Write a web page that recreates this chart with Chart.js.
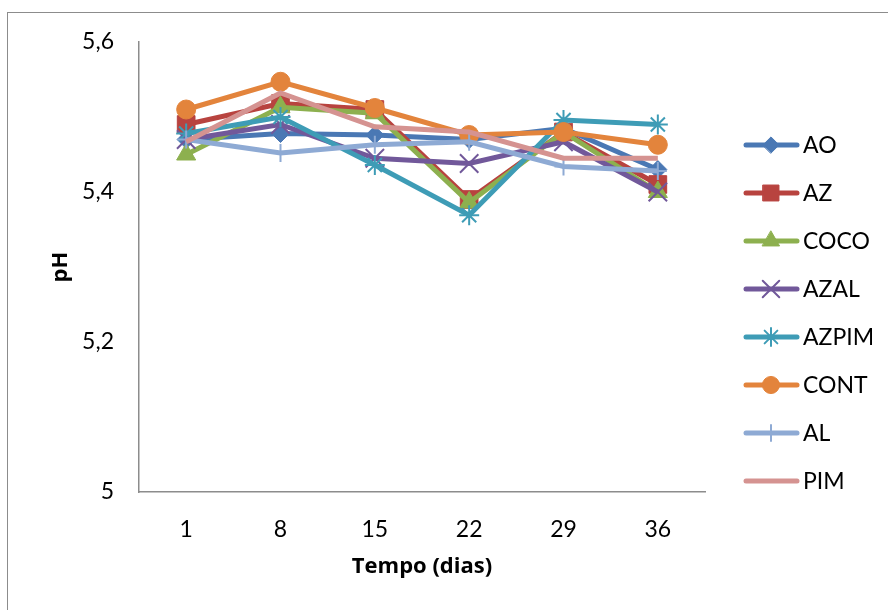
<!DOCTYPE html>
<html>
<head>
<meta charset="utf-8">
<script src="https://cdn.jsdelivr.net/npm/chart.js@4/dist/chart.umd.min.js"></script>
<style>
  html, body { margin: 0; padding: 0; background: #fff; overflow: hidden; }
  #wrap { position: relative; width: 888px; height: 610px; overflow: hidden; }
  #frame { position: absolute; left: 7px; top: 12px; width: 1000px; height: 1000px; border: 1px solid #8c8c8c; box-sizing: border-box; pointer-events: none; }
</style>
</head>
<body>
<div id="wrap">
  <canvas id="ph-chart" width="888" height="610"></canvas>
  <div id="frame"></div>
</div>
<script>
  const days = ["1", "8", "15", "22", "29", "36"];
  const yTicks = [5, 5.2, 5.4, 5.6];

  const AO    = [5.470, 5.478, 5.476, 5.470, 5.485, 5.430];
  const AZ    = [5.490, 5.518, 5.510, 5.390, 5.480, 5.410];
  const COCO  = [5.450, 5.513, 5.505, 5.386, 5.480, 5.400];
  const AZAL  = [5.470, 5.490, 5.445, 5.438, 5.467, 5.400];
  const AZPIM = [5.478, 5.500, 5.436, 5.369, 5.496, 5.490];
  const CONT  = [5.510, 5.547, 5.512, 5.476, 5.480, 5.463];
  const AL    = [5.470, 5.452, 5.463, 5.467, 5.434, 5.428];
  const PIM   = [5.467, 5.532, 5.487, 5.480, 5.445, 5.445];

  const FONT = "Lato, 'Open Sans', sans-serif";
  const TITLE_FONT = "'Open Sans', Lato, sans-serif";

  const series = [
    { label: "AO",    data: AO,    color: "#4A78B4", style: "rectRot",  r: 9 },
    { label: "AZ",    data: AZ,    color: "#B8433F", style: "rect",     r: 12.5 },
    { label: "COCO",  data: COCO,  color: "#8DB04F", style: "triangle", r: 11 },
    { label: "AZAL",  data: AZAL,  color: "#71589A", style: "crossRot", r: 13, bw: 2 },
    { label: "AZPIM", data: AZPIM, color: "#3E9CB6", style: "star",     r: 10, bw: 2 },
    { label: "CONT",  data: CONT,  color: "#E3843C", style: "circle",   r: 9.5 },
    { label: "AL",    data: AL,    color: "#8EAAD4", style: "cross",    r: 9, bw: 2 },
    { label: "PIM",   data: PIM,   color: "#D59391", style: "circle",   r: 0 },
  ];

  const fmtTick = (v) => Number(v.toFixed(1)).toString().replace(".", ",");

  // legend on the right: line with marker, then the name
  const sideLegend = {
    id: "sideLegend",
    afterDraw(chart) {
      const ctx = chart.ctx;
      ctx.save();
      series.forEach((s, i) => {
        const y = 145 + i * 48;
        ctx.strokeStyle = s.color;
        ctx.lineWidth = 5;
        ctx.lineCap = "round";
        ctx.beginPath();
        ctx.moveTo(746, y);
        ctx.lineTo(797, y);
        ctx.stroke();
        if (s.r > 0) {
          ctx.fillStyle = s.color;
          ctx.strokeStyle = s.color;
          ctx.lineWidth = s.bw || 1;
          Chart.helpers.drawPoint(ctx, { pointStyle: s.style, radius: s.r * 0.9, borderWidth: s.bw || 1, rotation: 0 }, 771, y);
        }
        ctx.fillStyle = "#000";
        ctx.font = "23px " + FONT;
        ctx.textBaseline = "middle";
        ctx.textAlign = "left";
        ctx.fillText(s.label, 803, y + 1);
      });
      ctx.restore();
    }
  };

  new Chart(document.getElementById("ph-chart"), {
    type: "line",
    data: {
      labels: days,
      datasets: series.map((s, i) => ({
        label: s.label,
        data: s.data,
        borderColor: s.color,
        backgroundColor: s.color,
        borderWidth: 5,
        pointStyle: s.style,
        pointRadius: s.r,
        pointBorderWidth: s.bw || 1,
        pointBorderColor: s.color,
        pointBackgroundColor: s.color,
        tension: 0,
        order: series.length - i,
      })),
    },
    options: {
      responsive: false,
      animation: false,
      events: [],
      layout: { padding: { left: 0, right: 183, top: 42, bottom: 0 } },
      plugins: { legend: { display: false }, tooltip: { enabled: false } },
      scales: {
        x: {
          type: "category",
          offset: true,
          grid: { display: false, drawTicks: false },
          border: { display: true, color: "#8c8c8c", width: 1.5 },
          ticks: { color: "#000", font: { family: FONT, size: 23 }, padding: 24, maxRotation: 0 },
          title: { display: true, text: "Tempo (dias)", color: "#000", font: { family: TITLE_FONT, size: 22, weight: "bold" }, padding: { top: 0, bottom: 30 } },
          afterFit: (sc) => { sc.height = 118; },
        },
        y: {
          min: 5,
          max: 5.6,
          afterBuildTicks: (sc) => { sc.ticks = yTicks.map(v => ({ value: v })); },
          grid: { display: false, drawTicks: false },
          border: { display: true, color: "#8c8c8c", width: 1.5 },
          ticks: { color: "#000", font: { family: FONT, size: 23 }, padding: 25, callback: fmtTick },
          title: { display: true, text: "pH", color: "#000", font: { family: TITLE_FONT, size: 22, weight: "bold" }, padding: { top: 48, bottom: 0 } },
          afterFit: (sc) => { sc.width = 139; },
        },
      },
    },
    plugins: [sideLegend],
  });
</script>
</body>
</html>
